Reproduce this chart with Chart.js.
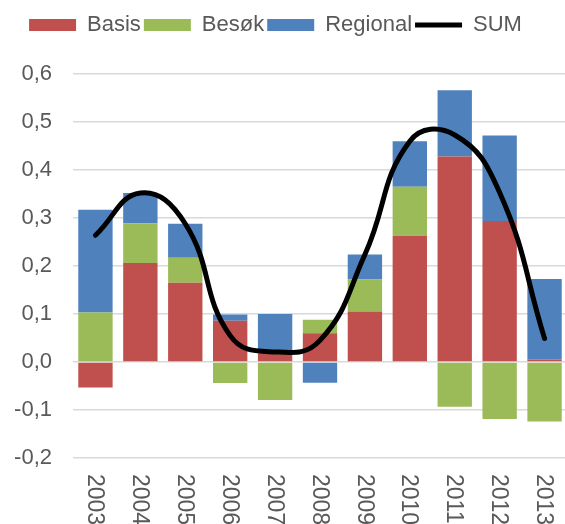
<html lang="no">
<head>
  <meta charset="UTF-8">
  <title>Basis, Besøk, Regional</title>
  <style>
    html, body { margin: 0; padding: 0; overflow: hidden; background: #fff; }
    #wrap { position: absolute; left: 0; top: 0; width: 567px; height: 524px; }
  </style>
  <script src="https://cdn.jsdelivr.net/npm/chart.js"></script>
</head>
<body>
  <div id="wrap"><canvas id="chart"></canvas></div>
  <script>
    const years = ['2003', '2004', '2005', '2006', '2007', '2008', '2009', '2010', '2011', '2012', '2013'];
    const basis = [-0.053, 0.206, 0.165, 0.086, 0.018, 0.060, 0.105, 0.263, 0.428, 0.294, 0.005];
    const besok = [0.103, 0.083, 0.052, -0.044, -0.079, 0.028, 0.067, 0.102, -0.093, -0.119, -0.124];
    const regional = [0.214, 0.063, 0.071, 0.013, 0.082, -0.043, 0.052, 0.095, 0.138, 0.178, 0.168];
    const sum = [0.264, 0.352, 0.288, 0.055, 0.021, 0.045, 0.224, 0.460, 0.473, 0.353, 0.049];

    const font = 'Liberation Sans, Arial, sans-serif';
    const grey = '#595959';

    // year labels run top-to-bottom under each bar
    const yearLabels = {
      id: 'yearLabels',
      afterDraw(chart) {
        const x = chart.scales.x;
        const ctx = chart.ctx;
        ctx.save();
        ctx.fillStyle = grey;
        ctx.font = '23px ' + font;
        ctx.textAlign = 'left';
        ctx.textBaseline = 'middle';
        years.forEach((y, i) => {
          ctx.save();
          ctx.translate(x.getPixelForTick(i) - 1, x.top + 16);
          ctx.rotate(Math.PI / 2);
          ctx.fillText(y, 0, 0);
          ctx.restore();
        });
        ctx.restore();
      }
    };

    // fixed legend band height, legend nudged a bit to the left
    const legendBand = {
      id: 'legendBand',
      beforeInit(chart) {
        const fit = chart.legend.fit;
        chart.legend.fit = function () {
          fit.call(this);
          this.height = 63;
        };
      },
      afterUpdate(chart) {
        chart.legend.right -= 16;
      }
    };

    const bar = (label, data, color) => ({
      type: 'bar', label, data, backgroundColor: color, borderWidth: 0,
      stack: 'parts', order: 1, pointStyle: 'rect',
      barPercentage: 0.765, categoryPercentage: 1
    });

    new Chart(document.getElementById('chart'), {
      data: {
        labels: years,
        datasets: [
          bar('Basis', basis, '#C0504D'),
          bar('Besøk', besok, '#9BBB59'),
          bar('Regional', regional, '#4F81BD'),
          {
            type: 'line', label: 'SUM', data: sum, stack: 'sum', order: 0,
            borderColor: '#000', backgroundColor: '#000', borderWidth: 5,
            borderCapStyle: 'round', tension: 0.45, pointRadius: 0,
            pointStyle: 'line', fill: false
          }
        ]
      },
      options: {
        responsive: true,
        maintainAspectRatio: false,
        animation: false,
        layout: { padding: { top: 11 } },
        plugins: {
          tooltip: { enabled: false },
          legend: {
            position: 'top',
            labels: {
              usePointStyle: true,
              pointStyleWidth: 47,
              boxWidth: 47,
              boxHeight: 12,
              padding: 3,
              color: grey,
              font: { family: font, size: 22 },
              sort: (a, b) => a.datasetIndex - b.datasetIndex
            }
          }
        },
        scales: {
          x: {
            stacked: true,
            grid: { display: false },
            border: { display: false },
            ticks: { display: false },
            afterFit(s) { s.height = 66; }
          },
          y: {
            stacked: true,
            min: -0.2,
            max: 0.6,
            grid: { color: '#d9d9d9', lineWidth: 1.5, drawTicks: false },
            border: { display: false },
            ticks: {
              stepSize: 0.1,
              padding: 21,
              color: grey,
              font: { family: font, size: 22 },
              callback: v => v.toFixed(1).replace('.', ',')
            },
            afterFit(s) { s.width = 73; }
          }
        }
      },
      plugins: [legendBand, yearLabels]
    });
  </script>
</body>
</html>
